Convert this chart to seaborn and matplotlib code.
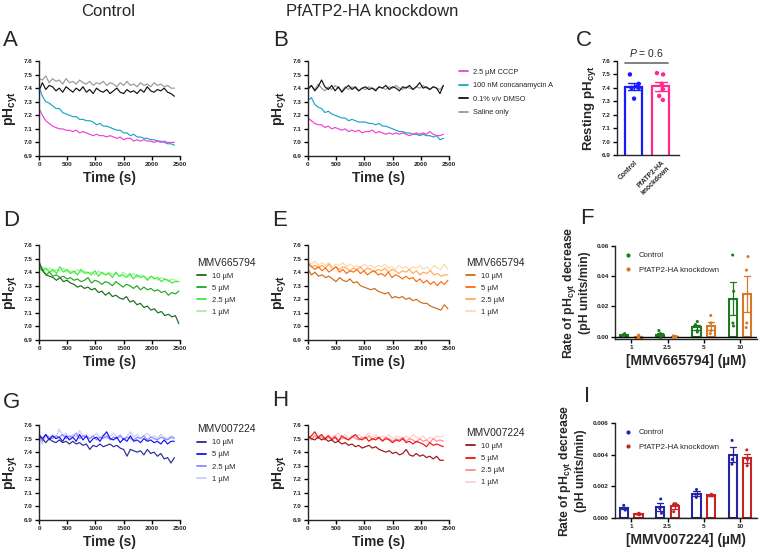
import numpy as np
import pandas as pd
import matplotlib
matplotlib.use('Agg')
import matplotlib.pyplot as plt
import seaborn as sns
from matplotlib.lines import Line2D

# ---------------- data ----------------
t_ab = list(range(0, 2401, 60))      # A, B, G, H time grid (s)
t_de = list(range(0, 2481, 62))      # D, E time grid (s)

a_saline = [7.47,7.46,7.49,7.44,7.47,7.45,7.46,7.43,7.47,7.44,7.45,7.43,7.46,7.44,7.43,7.45,7.42,7.44,7.43,7.45,7.42,7.44,7.43,7.41,7.44,7.42,7.45,7.42,7.43,7.41,7.44,7.42,7.43,7.41,7.44,7.42,7.43,7.41,7.42,7.40,7.40]
a_dmso = [7.38,7.44,7.39,7.42,7.41,7.38,7.40,7.37,7.41,7.39,7.37,7.40,7.38,7.41,7.37,7.39,7.36,7.40,7.38,7.37,7.39,7.36,7.38,7.40,7.37,7.36,7.39,7.37,7.38,7.36,7.39,7.37,7.41,7.38,7.37,7.39,7.38,7.40,7.37,7.36,7.34]
a_conc = [7.41,7.34,7.30,7.29,7.27,7.25,7.25,7.22,7.21,7.20,7.19,7.19,7.17,7.17,7.16,7.16,7.15,7.13,7.14,7.12,7.12,7.11,7.10,7.09,7.09,7.07,7.07,7.05,7.06,7.04,7.04,7.03,7.03,7.02,7.02,7.01,7.01,7.00,6.99,6.99,6.98]
a_cccp = [7.25,7.20,7.16,7.14,7.12,7.11,7.10,7.10,7.09,7.09,7.08,7.09,7.07,7.08,7.07,7.06,7.05,7.06,7.05,7.05,7.04,7.05,7.04,7.03,7.04,7.02,7.03,7.03,7.01,7.02,7.01,7.02,7.01,7.01,7.00,7.01,7.00,7.01,7.00,7.00,7.00]

b_saline = [7.40,7.42,7.39,7.43,7.40,7.38,7.41,7.39,7.42,7.40,7.38,7.41,7.39,7.41,7.40,7.38,7.40,7.39,7.41,7.40,7.39,7.41,7.40,7.39,7.41,7.40,7.42,7.40,7.39,7.41,7.40,7.39,7.41,7.40,7.42,7.40,7.39,7.41,7.40,7.39,7.42]
b_dmso = [7.39,7.42,7.38,7.41,7.46,7.41,7.39,7.42,7.38,7.41,7.37,7.40,7.42,7.39,7.41,7.38,7.40,7.41,7.39,7.40,7.38,7.41,7.40,7.42,7.39,7.41,7.40,7.38,7.41,7.40,7.42,7.39,7.41,7.44,7.40,7.41,7.39,7.41,7.40,7.36,7.42]
b_conc = [7.31,7.33,7.28,7.26,7.25,7.22,7.23,7.21,7.20,7.19,7.18,7.18,7.16,7.17,7.16,7.15,7.15,7.15,7.14,7.14,7.13,7.14,7.12,7.12,7.11,7.10,7.09,7.08,7.08,7.07,7.07,7.06,7.06,7.05,7.06,7.05,7.05,7.04,7.05,7.02,7.03]
b_cccp = [7.18,7.16,7.14,7.13,7.13,7.11,7.12,7.10,7.11,7.10,7.09,7.10,7.08,7.09,7.08,7.09,7.07,7.08,7.08,7.09,7.07,7.08,7.07,7.06,7.07,7.06,7.07,7.06,7.07,7.06,7.05,7.06,7.07,7.06,7.07,7.06,7.08,7.06,7.05,7.05,7.06]

d_10 = [7.48,7.41,7.38,7.37,7.36,7.34,7.36,7.33,7.34,7.32,7.31,7.29,7.30,7.28,7.29,7.27,7.28,7.25,7.26,7.23,7.25,7.22,7.23,7.21,7.20,7.22,7.18,7.19,7.16,7.17,7.14,7.15,7.12,7.13,7.10,7.11,7.08,7.09,7.07,7.08,7.02]
d_5 = [7.46,7.42,7.38,7.40,7.37,7.38,7.36,7.37,7.35,7.36,7.34,7.35,7.33,7.34,7.36,7.32,7.34,7.33,7.31,7.33,7.32,7.30,7.33,7.31,7.29,7.31,7.30,7.28,7.30,7.27,7.29,7.27,7.28,7.26,7.27,7.25,7.26,7.23,7.25,7.24,7.26]
d_25 = [7.43,7.41,7.43,7.40,7.42,7.39,7.44,7.40,7.42,7.39,7.41,7.38,7.42,7.39,7.40,7.38,7.41,7.37,7.40,7.38,7.39,7.36,7.40,7.37,7.38,7.36,7.39,7.35,7.38,7.36,7.37,7.34,7.37,7.35,7.36,7.33,7.35,7.34,7.32,7.33,7.33]
d_1 = [7.42,7.44,7.41,7.43,7.40,7.42,7.41,7.43,7.40,7.41,7.39,7.42,7.40,7.41,7.39,7.40,7.38,7.41,7.39,7.38,7.40,7.38,7.39,7.37,7.40,7.38,7.37,7.39,7.36,7.38,7.37,7.35,7.37,7.36,7.34,7.36,7.35,7.33,7.35,7.34,7.33]

e_10 = [7.42,7.38,7.40,7.37,7.38,7.36,7.37,7.35,7.33,7.36,7.34,7.33,7.35,7.32,7.33,7.30,7.29,7.28,7.27,7.28,7.26,7.25,7.24,7.25,7.21,7.22,7.21,7.22,7.20,7.21,7.19,7.20,7.18,7.17,7.17,7.15,7.14,7.13,7.12,7.16,7.13]
e_5 = [7.47,7.44,7.42,7.44,7.41,7.43,7.40,7.42,7.44,7.40,7.42,7.39,7.41,7.40,7.42,7.39,7.41,7.38,7.40,7.41,7.38,7.39,7.37,7.40,7.36,7.38,7.37,7.35,7.37,7.35,7.36,7.33,7.35,7.32,7.34,7.31,7.33,7.30,7.33,7.31,7.34]
e_25 = [7.46,7.44,7.45,7.43,7.45,7.43,7.46,7.42,7.44,7.42,7.44,7.43,7.41,7.43,7.42,7.44,7.41,7.43,7.42,7.40,7.42,7.41,7.43,7.40,7.42,7.41,7.39,7.41,7.40,7.42,7.39,7.41,7.38,7.40,7.39,7.41,7.38,7.39,7.37,7.38,7.38]
e_1 = [7.48,7.46,7.48,7.45,7.47,7.45,7.47,7.44,7.46,7.45,7.47,7.44,7.46,7.44,7.45,7.43,7.46,7.44,7.45,7.43,7.45,7.44,7.46,7.43,7.44,7.42,7.45,7.43,7.44,7.42,7.44,7.43,7.45,7.42,7.44,7.41,7.45,7.43,7.42,7.46,7.42]

g_10 = [7.52,7.50,7.47,7.50,7.48,7.47,7.49,7.47,7.48,7.46,7.48,7.46,7.47,7.45,7.46,7.42,7.45,7.44,7.46,7.44,7.45,7.46,7.44,7.45,7.43,7.42,7.37,7.42,7.41,7.40,7.41,7.38,7.42,7.39,7.40,7.37,7.39,7.35,7.36,7.32,7.36]
g_5 = [7.53,7.50,7.53,7.49,7.52,7.50,7.51,7.48,7.52,7.49,7.51,7.48,7.53,7.49,7.52,7.47,7.50,7.51,7.48,7.52,7.55,7.50,7.49,7.51,7.47,7.50,7.48,7.52,7.48,7.49,7.47,7.50,7.48,7.49,7.47,7.48,7.46,7.49,7.46,7.48,7.48]
g_25 = [7.52,7.48,7.53,7.51,7.50,7.52,7.51,7.53,7.50,7.52,7.51,7.54,7.50,7.52,7.51,7.50,7.52,7.49,7.51,7.50,7.52,7.49,7.51,7.50,7.52,7.49,7.51,7.50,7.49,7.51,7.50,7.52,7.49,7.51,7.50,7.49,7.51,7.50,7.49,7.51,7.50]
g_1 = [7.50,7.46,7.52,7.50,7.53,7.51,7.57,7.52,7.54,7.50,7.53,7.51,7.56,7.52,7.53,7.50,7.52,7.54,7.51,7.53,7.50,7.52,7.54,7.51,7.53,7.50,7.52,7.55,7.51,7.53,7.50,7.52,7.54,7.51,7.52,7.50,7.53,7.51,7.50,7.52,7.51]

h_10 = [7.52,7.50,7.49,7.51,7.49,7.50,7.48,7.49,7.47,7.48,7.46,7.47,7.45,7.46,7.44,7.45,7.43,7.44,7.45,7.43,7.44,7.42,7.41,7.40,7.41,7.39,7.40,7.38,7.39,7.42,7.38,7.37,7.39,7.37,7.38,7.36,7.37,7.35,7.37,7.34,7.34]
h_5 = [7.50,7.52,7.55,7.51,7.53,7.50,7.52,7.49,7.51,7.48,7.52,7.50,7.49,7.51,7.53,7.50,7.49,7.51,7.48,7.50,7.49,7.51,7.48,7.50,7.49,7.47,7.49,7.48,7.50,7.47,7.48,7.46,7.48,7.47,7.46,7.44,7.47,7.45,7.46,7.45,7.44]
h_25 = [7.51,7.49,7.52,7.50,7.51,7.49,7.51,7.50,7.52,7.49,7.50,7.51,7.49,7.52,7.50,7.49,7.51,7.50,7.52,7.49,7.51,7.50,7.49,7.51,7.50,7.48,7.50,7.49,7.51,7.48,7.50,7.49,7.47,7.50,7.48,7.49,7.47,7.50,7.48,7.49,7.48]
h_1 = [7.52,7.50,7.53,7.51,7.52,7.50,7.53,7.51,7.52,7.54,7.51,7.53,7.50,7.52,7.51,7.53,7.50,7.52,7.54,7.51,7.53,7.50,7.52,7.51,7.53,7.50,7.52,7.51,7.49,7.52,7.50,7.53,7.51,7.50,7.52,7.49,7.51,7.50,7.52,7.51,7.52]

# C: resting pH
c_groups = ['Control', 'PfATP2-HA\nknockdown']
c_control = [7.50, 7.43, 7.41, 7.40, 7.40, 7.32]
c_knockdown = [7.51, 7.50, 7.43, 7.39, 7.34, 7.31]

# F / I: rate of decrease
conc_labels = ['1', '2.5', '5', '10']
f_control = [[0.0020, 0.0010, 0.0005, 0.0010],
             [0.0040, 0.0020, 0.0005, -0.0013],
             [0.0100, 0.0080, 0.0040, 0.0030],
             [0.0540, 0.0300, 0.0090, 0.0070]]
f_knockdown = [[0.0010, 0.0000, -0.0008, -0.0012],
               [0.0005, 0.0000, -0.0005, 0.0000],
               [0.0140, 0.0090, 0.0040, 0.0020],
               [0.0530, 0.0440, 0.0090, 0.0060]]
i_control = [[0.0008, 0.0006, 0.0005],
             [0.0012, 0.0006, 0.0003],
             [0.0018, 0.0015, 0.0013],
             [0.0049, 0.0037, 0.0034]]
i_knockdown = [[0.0003, 0.0002, 0.00025],
               [0.0009, 0.0009, 0.0004],
               [0.0015, 0.0014, 0.0014],
               [0.0043, 0.0037, 0.0033]]

# ---------------- style ----------------
sns.set_theme(style='ticks')
plt.rcParams['font.family'] = ['Liberation Sans', 'DejaVu Sans']
plt.rcParams['mathtext.fontset'] = 'custom'
plt.rcParams['mathtext.rm'] = 'Liberation Sans'
plt.rcParams['mathtext.it'] = 'Liberation Sans:italic'
plt.rcParams['mathtext.bf'] = 'Liberation Sans:bold'
plt.rcParams['axes.linewidth'] = 1.0

W, H = 763, 550
fig = plt.figure(figsize=(W / 100, H / 100), dpi=100)


def px_axes(x0, y0, x1, y1):
    return fig.add_axes([x0 / W, 1 - y1 / H, (x1 - x0) / W, (y1 - y0) / H])


TICK_FS = 4.6
LAB_FS = 10
PH_LABEL = r'pH$_{\mathbf{cyt}}$'


def style_ticks(ax):
    ax.tick_params(labelsize=TICK_FS, length=3, width=1, pad=1.5, color='black')
    for lab in ax.get_xticklabels() + ax.get_yticklabels():
        lab.set_fontweight('bold')
    sns.despine(ax=ax)


def ph_axes(ax):
    ax.set_xlim(0, 2500)
    ax.set_ylim(6.9, 7.6)
    ax.set_xticks([0, 500, 1000, 1500, 2000, 2500])
    ax.set_yticks([6.9, 7.0, 7.1, 7.2, 7.3, 7.4, 7.5, 7.6])
    ax.set_yticklabels(['%.1f' % v for v in ax.get_yticks()])
    ax.set_xlabel('Time (s)', fontsize=LAB_FS, fontweight='bold', labelpad=3)
    ax.set_ylabel(PH_LABEL, fontsize=LAB_FS, fontweight='bold', labelpad=3)
    style_ticks(ax)


def draw_traces(ax, t, series, names, colors, title=None, anchor=(1.04, 0.98)):
    # draw lightest first so darkest sits on top
    for y, c in list(zip(series, colors))[::-1]:
        sns.lineplot(x=t, y=y, ax=ax, color=c, lw=0.85, legend=False)
    handles = [Line2D([], [], color=c, lw=1.3) for c in colors]
    if title is None:
        leg = ax.legend(handles, names, loc='upper left', bbox_to_anchor=anchor,
                        frameon=False, fontsize=5.3, handlelength=1.2,
                        handletextpad=0.7, labelspacing=0.85, borderaxespad=0)
    else:
        leg = ax.legend(handles, names, loc='upper left', bbox_to_anchor=anchor,
                        frameon=False, fontsize=5.5, handlelength=1.1,
                        handletextpad=0.8, labelspacing=0.62, borderaxespad=0,
                        title=title, title_fontsize=7.4, alignment='left')
    ph_axes(ax)


def panel_letter(x, y, s):
    fig.text(x / W, 1 - y / H, s, fontsize=16, ha='left', va='center')


# headers
fig.text(108 / W, 1 - 11 / H, 'Control', fontsize=12, ha='center', va='center')
fig.text(372 / W, 1 - 11 / H, 'PfATP2-HA knockdown', fontsize=12, ha='center', va='center')

# ---------------- A / B ----------------
ab_names = ['2.5 µM CCCP', '100 nM concanamycin A', '0.1% v/v DMSO', 'Saline only']
ab_colors = ['#f040d8', '#18a8c4', '#111111', '#999999']

axA = px_axes(39, 61, 180, 156)
draw_traces(axA, t_ab, [a_cccp, a_conc, a_dmso, a_saline], ab_names, ab_colors)
axA.get_legend().remove()
panel_letter(3, 41, 'A')

axB = px_axes(308, 61, 449, 156)
draw_traces(axB, t_ab, [b_cccp, b_conc, b_dmso, b_saline], ab_names, ab_colors,
            anchor=(1.05, 0.95))
panel_letter(273, 41, 'B')

# ---------------- C ----------------
axC = px_axes(617, 61, 679, 155)
c_df = pd.DataFrame({'group': [c_groups[0]] * len(c_control) + [c_groups[1]] * len(c_knockdown),
                     'ph': c_control + c_knockdown})
c_pal = {c_groups[0]: '#1a1aff', c_groups[1]: '#ff2a8c'}
sns.barplot(data=c_df, x='group', y='ph', hue='group', palette=c_pal, fill=False,
            errorbar='se', capsize=0.45, width=0.63, linewidth=1.6,
            err_kws={'linewidth': 1.0}, legend=False, ax=axC)
sns.stripplot(data=c_df, x='group', y='ph', hue='group', palette=c_pal, size=3.2,
              jitter=0.18, legend=False, ax=axC, zorder=4)
axC.set_ylim(6.9, 7.6)
axC.set_xlim(-0.63, 1.67)
axC.set_yticks([6.9, 7.0, 7.1, 7.2, 7.3, 7.4, 7.5, 7.6])
axC.set_yticklabels(['%.1f' % v for v in axC.get_yticks()])
axC.set_xlabel('')
axC.set_ylabel('Resting ' + PH_LABEL, fontsize=9.5, fontweight='bold', labelpad=3)
style_ticks(axC)
axC.set_xticks([0, 1])
axC.set_xticklabels(c_groups, rotation=45, ha='right', rotation_mode='anchor',
                    fontsize=4.9, fontweight='bold')
axC.tick_params(axis='x', length=0, pad=3)
axC.plot([-0.33, 1.27], [7.585, 7.585], color='#777777', lw=1.3, clip_on=False)
axC.text(0.47, 7.615, r'$P$ = 0.6', fontsize=7.5, ha='center', va='bottom')
panel_letter(576, 41, 'C')

# ---------------- D / E ----------------
dose_names = ['10 µM', '5 µM', '2.5 µM', '1 µM']
axD = px_axes(39, 245, 180, 340)
draw_traces(axD, t_de, [d_10, d_5, d_25, d_1], dose_names,
            ['#1b6b1b', '#1fa81f', '#39ef39', '#a8f0a0'], title='MMV665794',
            anchor=(1.1, 0.9))
panel_letter(3, 220, 'D')

axE = px_axes(308, 245, 449, 340)
draw_traces(axE, t_de, [e_10, e_5, e_25, e_1], dose_names,
            ['#cc6c14', '#ff6a10', '#ffaa5a', '#ffd8b0'], title='MMV665794',
            anchor=(1.1, 0.9))
panel_letter(272, 220, 'E')

# ---------------- G / H ----------------
axG = px_axes(39, 425, 180, 520)
draw_traces(axG, t_ab, [g_10, g_5, g_25, g_1], dose_names,
            ['#2b2b9a', '#1212f0', '#8a8aff', '#cacaff'], title='MMV007224',
            anchor=(1.1, 1.04))
panel_letter(3, 402, 'G')

axH = px_axes(308, 425, 449, 520)
draw_traces(axH, t_ab, [h_10, h_5, h_25, h_1], dose_names,
            ['#9c1414', '#ee1414', '#ff8c8c', '#ffd0d0'], title='MMV007224',
            anchor=(1.1, 1.0))
panel_letter(272, 401, 'H')


# ---------------- F / I ----------------
def rate_df(control, knockdown):
    rows = []
    for lab, vals in zip(conc_labels, control):
        rows += [(lab, 'Control', v) for v in vals]
    for lab, vals in zip(conc_labels, knockdown):
        rows += [(lab, 'PfATP2-HA knockdown', v) for v in vals]
    return pd.DataFrame(rows, columns=['conc', 'group', 'rate'])


def rate_panel(ax, df, colors, ylim, yticks, fmt, xlabel):
    pal = {'Control': colors[0], 'PfATP2-HA knockdown': colors[1]}
    hue_order = ['Control', 'PfATP2-HA knockdown']
    sns.barplot(data=df, x='conc', y='rate', hue='group', hue_order=hue_order,
                order=conc_labels, palette=pal, fill=False, errorbar='se',
                capsize=0.35, width=0.8, gap=0.42, linewidth=1.5,
                err_kws={'linewidth': 0.9}, legend=False, ax=ax)
    sns.stripplot(data=df, x='conc', y='rate', hue='group', hue_order=hue_order,
                  order=conc_labels, palette=pal, dodge=True, size=2.2,
                  jitter=0.08, legend=False, ax=ax, zorder=4)
    ax.axhline(0, color='black', lw=1.0, zorder=3)
    ax.set_xlim(-0.45, 3.47)
    ax.set_ylim(*ylim)
    ax.set_yticks(yticks)
    ax.set_yticklabels([fmt % v for v in yticks])
    ax.set_xlabel(xlabel, fontsize=10, fontweight='bold', labelpad=3)
    ax.set_ylabel('Rate of ' + PH_LABEL + ' decrease\n(pH units/min)',
                  fontsize=8.8, fontweight='bold', labelpad=4, linespacing=1.1)
    style_ticks(ax)
    handles = [Line2D([], [], ls='none', marker='o', ms=2, color=c) for c in colors]
    ax.legend(handles, hue_order, loc='upper left', bbox_to_anchor=(0.04, 0.97),
              frameon=False, fontsize=5.6, handlelength=1.0, handletextpad=0.9,
              labelspacing=0.9, borderaxespad=0)


axF = px_axes(615, 246, 757, 339)
rate_panel(axF, rate_df(f_control, f_knockdown), ['#1e7a1e', '#d6782a'],
           (-0.0016, 0.06), [0.0, 0.02, 0.04, 0.06], '%.2f', '[MMV665794] (µM)')
panel_letter(580, 218, 'F')

axI = px_axes(615, 423, 757, 518)
rate_panel(axI, rate_df(i_control, i_knockdown), ['#2424a4', '#c42424'],
           (0, 0.006), [0.0, 0.002, 0.004, 0.006], '%.3f', '[MMV007224] (µM)')
panel_letter(584, 397, 'I')

fig.savefig('out.png', dpi=100)
